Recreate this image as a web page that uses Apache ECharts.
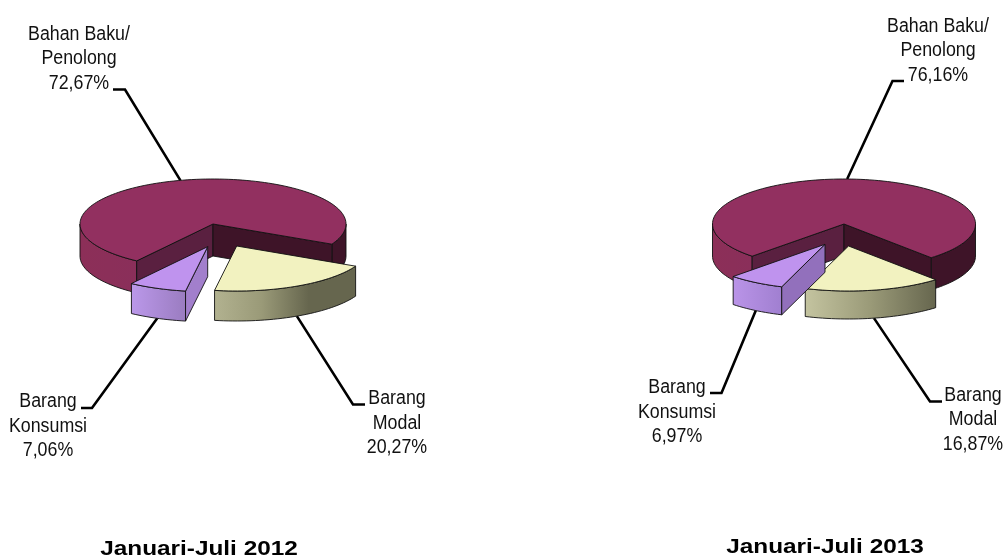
<!DOCTYPE html>
<html>
<head>
<meta charset="utf-8">
<style>html,body{margin:0;padding:0;background:#fff}#c{width:1005px;height:560px}</style>
<script src="https://cdn.jsdelivr.net/npm/echarts@6/dist/echarts.min.js"></script>
</head>
<body>
<div id="c"></div>
<script>
const categories = ['Bahan Baku/\nPenolong', 'Barang\nModal', 'Barang\nKonsumsi'];
const values2012 = [72.67, 20.27, 7.06];
const values2013 = [76.16, 16.87, 6.97];
const titles = ['Januari-Juli 2012', 'Januari-Juli 2013'];

const LG = (stops) => new echarts.graphic.LinearGradient(0, 0, 1, 0,
  stops.map((c, i) => ({ offset: stops.length > 1 ? i / (stops.length - 1) : 0, color: c })));

const mainCol = {
  top: '#923060',
  sides: [LG(['#8c2f58', '#8a2f5a']), '#3e1428'],
  faceStart: '#5a2040',
  faceEnd: '#3e1428'
};
const pies = [
  {
    values: values2012, title: titles[0], titlePos: [199, 549.5],
    cx: 213, cy: 224, rx: 133, ry: 45, start: 125,
    offsets: [[0, 0], [23.7, 22], [-5.3, 22.7]],
    depths: [32, 30, 30],
    cols: [mainCol,
      { top: '#f2f2c0', sides: [LG(['#b2b290', '#9a9a78', '#66664e', '#66664e'])] },
      { top: '#bf93ee', sides: [LG(['#bb98ea', '#9a7cc0'])], faceStart: '#a27fcc' }],
    elbows: [[125, 89.5], [353, 404.5], [92, 408]],
    ends: [[113, 89.5], [365, 404.5], [81, 408]],
    labels: [[79, 58.5], [397, 423], [48, 426]]
  },
  {
    values: values2013, title: titles[1], titlePos: [825, 547],
    cx: 844, cy: 224, rx: 131.5, ry: 45, start: 134.3,
    offsets: [[0, 0], [4.5, 22], [-19, 20.3]],
    depths: [32, 28, 28],
    cols: [mainCol,
      { top: '#f2f2c0', sides: [LG(['#c4c4a0', '#9a9a78', '#66664e'])] },
      { top: '#bf93ee', sides: [LG(['#ba94e8', '#a07fd0'])], faceStart: '#9270bc' }],
    elbows: [[892.5, 81], [930, 401.5], [721.5, 393]],
    ends: [[904, 81], [942, 401.5], [710, 393]],
    labels: [[938, 50.5], [973, 419.5], [677, 412]]
  }
];

const fmt = v => v.toFixed(2).replace('.', ',') + '%';
const rad = d => d * Math.PI / 180;

function ranges(p) {
  let a = p.start;
  return p.values.map(v => { const s = a; a += v * 3.6; return [s, a]; });
}
function pt(p, i, ang, dz) {
  const o = p.offsets[i];
  return [p.cx + o[0] + p.rx * Math.cos(rad(ang)), p.cy + o[1] + p.ry * Math.sin(rad(ang)) + (dz || 0)];
}
function arc(p, i, a0, a1, dz) {
  const n = Math.max(2, Math.ceil(Math.abs(a1 - a0) / 2));
  const r = [];
  for (let k = 0; k <= n; k++) r.push(pt(p, i, a0 + (a1 - a0) * k / n, dz));
  return r;
}
const stroke = { stroke: '#111', lineWidth: 0.9, lineJoin: 'round' };

function sliceChildren(p, i, a0, a1) {
  const d = p.depths[i], col = p.cols[i], o = p.offsets[i];
  const c = [p.cx + o[0], p.cy + o[1]];
  const out = [];
  const poly = (points, fill) => out.push({ type: 'polygon', shape: { points }, style: Object.assign({ fill }, stroke) });
  let idx = 0;
  for (const k of [0, 360]) {
    const s = Math.max(a0, k), e = Math.min(a1, k + 180);
    if (e > s) {
      poly(arc(p, i, s, e, 0).concat(arc(p, i, e, s, d)), col.sides[Math.min(idx, col.sides.length - 1)]);
      idx++;
    }
  }
  const face = (ang, fill) => {
    const e = pt(p, i, ang, 0);
    poly([c, e, [e[0], e[1] + d], [c[0], c[1] + d]], fill);
  };
  if (col.faceStart && Math.sin(rad(a0 - 90)) > 0) face(a0, col.faceStart);
  if (col.faceEnd && Math.sin(rad(a1 + 90)) > 0) face(a1, col.faceEnd);
  poly([c].concat(arc(p, i, a0, a1, 0)), col.top);
  return out;
}

const series = [];
pies.forEach(p => {
  const rs = ranges(p);
  // leader lines and labels, under the pie
  series.push({
    type: 'custom', coordinateSystem: 'none', z: 1, silent: true,
    data: p.values.map(v => [v]),
    renderItem: (params, api) => {
      const i = params.dataIndex, v = api.value(0);
      const mid = (rs[i][0] + rs[i][1]) / 2;
      const anchor = pt(p, i, mid, Math.sin(rad(mid)) > 0 ? p.depths[i] : 0);
      return {
        type: 'group',
        children: [
          { type: 'polyline', shape: { points: [p.ends[i], p.elbows[i], anchor] },
            style: { fill: null, stroke: '#000', lineWidth: 2.6 } },
          { type: 'text', x: p.labels[i][0], y: p.labels[i][1], scaleX: 0.89,
            style: { text: categories[i] + '\n' + fmt(v), fill: '#111',
              font: '20px "Liberation Sans"', lineHeight: 24.5, align: 'center', verticalAlign: 'middle' } }
        ]
      };
    }
  });
  // slices
  series.push({
    type: 'custom', coordinateSystem: 'none', z: 2, silent: true,
    data: p.values.map(v => [v]),
    renderItem: (params) => {
      const i = params.dataIndex;
      return { type: 'group', children: sliceChildren(p, i, rs[i][0], rs[i][1]) };
    }
  });
  // chart caption
  series.push({
    type: 'custom', coordinateSystem: 'none', z: 3, silent: true,
    data: [[0]],
    renderItem: () => ({
      type: 'text', x: p.titlePos[0], y: p.titlePos[1], scaleX: 1.16,
      style: { text: p.title, fill: '#000', font: 'bold 21px "Liberation Sans"', align: 'center', verticalAlign: 'middle' }
    })
  });
});

const chart = echarts.init(document.getElementById('c'), null, { renderer: 'canvas' });
chart.setOption({ animation: false, backgroundColor: '#fff', series });
</script>
</body>
</html>
